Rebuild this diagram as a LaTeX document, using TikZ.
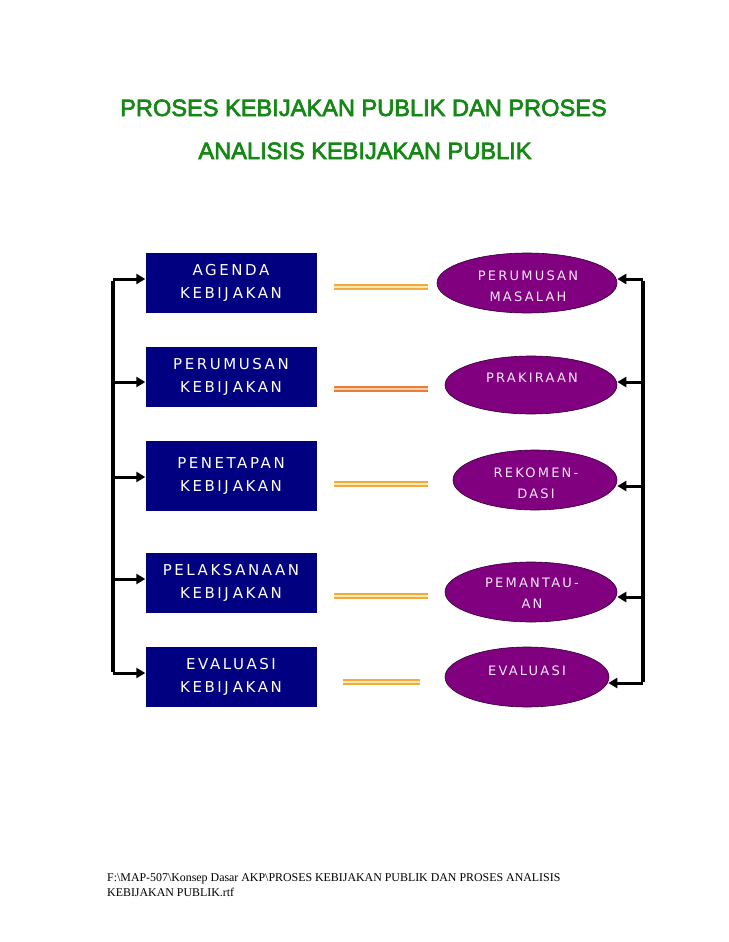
\documentclass[tikz,border=0pt]{standalone}
\usepackage{fontspec}
\setmainfont{Liberation Serif}
\newfontfamily\titlefont{Liberation Sans}
\newfontfamily\boxfont[LetterSpace=17]{DejaVu Sans}
\newfontfamily\ellfont[LetterSpace=17]{DejaVu Sans}
\usetikzlibrary{shapes.geometric,arrows.meta}
\definecolor{titlegreen}{RGB}{22,135,22}
\definecolor{boxblue}{RGB}{0,0,128}
\definecolor{ellpurple}{RGB}{128,0,128}
\definecolor{linea}{RGB}{240,172,62}
\definecolor{lineaIn}{RGB}{252,232,175}
\definecolor{lineb}{RGB}{230,126,56}
\definecolor{linebIn}{RGB}{250,205,170}
\definecolor{elltext}{RGB}{250,232,250}
\newcommand{\outlinetext}[1]{\special{pdf:literal direct 2 Tr 0.7 w}#1\special{pdf:literal direct 0 Tr}}
\newcommand{\kbj}{KEBIJ\hspace{4pt}AKAN}
\begin{document}
\begin{tikzpicture}[x=1pt,y=-1pt,
  titletext/.style={text=titlegreen, font=\titlefont\fontsize{23.6}{28}\selectfont, inner sep=0pt, anchor=base},
  stagebox/.style={rectangle, fill=boxblue, minimum width=171pt, minimum height=60pt, inner sep=0pt,
    text=white, align=center, font=\boxfont\fontsize{15}{23}\selectfont},
  anabox/.style={ellipse, fill=ellpurple, draw=black!60!ellpurple, line width=0.6pt, inner sep=0pt},
  analabel/.style={text=elltext, align=center, font=\ellfont\fontsize{13}{21}\selectfont, inner sep=0pt},
  rail/.style={line width=3.5pt},
  feed/.style={line width=3pt, -{Triangle[length=9pt,width=10pt]}},
  linkA/.style={draw=linea, double=lineaIn, line width=2.6pt, double distance=1.6pt},
  linkB/.style={draw=lineb, double=linebIn, line width=2.6pt, double distance=1.6pt},
  foot/.style={font=\fontsize{11.9}{14}\selectfont, inner sep=0pt, anchor=base west}
]
\useasboundingbox (0,0) rectangle (728,942);

% title
\node[titletext] (t1) at (363.5,116) {\outlinetext{PROSES KEBIJAKAN PUBLIK DAN PROSES}};
\node[titletext] (t2) at (365,159) {\outlinetext{ANALISIS KEBIJAKAN PUBLIK}};

% left boxes
\node[stagebox] (b1) at (231,283) {AGENDA\\\kbj};
\node[stagebox] (b2) at (231,377) {PERUMUSAN\\\kbj};
\node[stagebox, minimum height=70pt] (b3) at (231,476) {PENETAPAN\\\kbj};
\node[stagebox] (b4) at (231,583) {PELAKSANAAN\\\kbj};
\node[stagebox] (b5) at (231,677) {EVALUASI\\\kbj};

% ellipses
\node[anabox, minimum width=180pt, minimum height=60pt] (e1) at (527,283) {};
\node[anabox, minimum width=172pt, minimum height=58pt] (e2) at (531,385) {};
\node[anabox, minimum width=164pt, minimum height=60pt] (e3) at (535,480) {};
\node[anabox, minimum width=172pt, minimum height=60pt] (e4) at (531,592) {};
\node[anabox, minimum width=164pt, minimum height=60pt] (e5) at (527,677) {};
\node[analabel] (e1t) at (528,286.5) {PERUMUSAN\\MASALAH};
\node[analabel] (e2t) at (532,378) {PRAKIRAAN};
\node[analabel] (e3t) at (536,483) {REKOMEN-\\DASI};
\node[analabel] (e4t) at (532,593.5) {PEMANTAU-\\AN};
\node[analabel] (e5t) at (527,671) {EVALUASI};

% left rail
\coordinate (l1) at (113,279);
\coordinate (l2) at (113,382);
\coordinate (l3) at (113,477);
\coordinate (l4) at (113,579);
\coordinate (l5) at (113,673);
\draw[rail] ([yshift=-1.5pt]l1) -- ([yshift=1.5pt]l5);
\foreach \i in {1,...,5} \draw[feed] (l\i) -- (l\i -| b\i.west);

% right rail
\coordinate (r1) at (643,279);
\coordinate (r2) at (643,382);
\coordinate (r3) at (643,486);
\coordinate (r4) at (643,597);
\coordinate (r5) at (643,683);
\draw[rail] ([yshift=-1.5pt]r1) -- ([yshift=1.5pt]r5);
\draw[feed] (r1) -- (r1 -| e1.east);
\draw[feed] (r2) -- (r2 -| e2.east);
\draw[feed] (r3) -- (r3 -| e3.east);
\draw[feed] (r4) -- (r4 -| e4.east);
\draw[feed] (r5) -- ([xshift=-1pt]r5 -| e5.east);

% double links
\draw[linkA] (334,287) -- (428,287);
\draw[linkB] (334,389) -- (428,389);
\draw[linkA] (334,484) -- (428,484);
\draw[linkA] (334,596) -- (428,596);
\draw[linkA] (343,682) -- (420,682);

% footer
\node[foot] (f1) at (107,881) {F:\textbackslash MAP-507\textbackslash Konsep Dasar AKP\textbackslash PROSES KEBIJAKAN PUBLIK DAN PROSES ANALISIS};
\node[foot] (f2) at (107,896) {KEBIJAKAN PUBLIK.rtf};
\end{tikzpicture}
\end{document}
